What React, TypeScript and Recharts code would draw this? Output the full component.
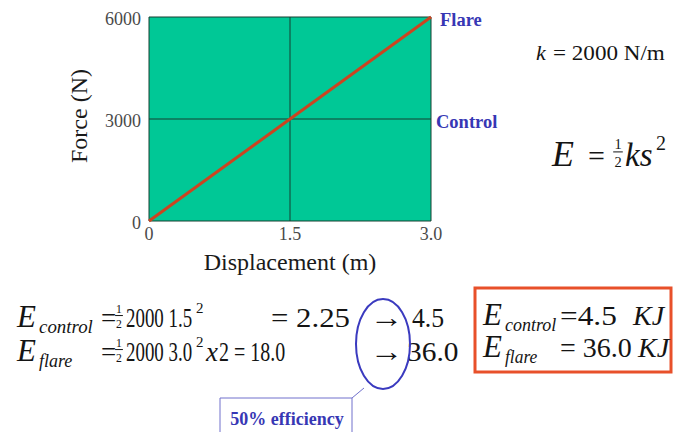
import React from 'react';
import {
  LineChart,
  Line,
  XAxis,
  YAxis,
  CartesianGrid,
  ReferenceLine,
} from 'recharts';

const displacement = [0, 1.5, 3.0];
const force = [0, 3000, 6000];
const xTicks = [0, 1.5, 3.0];
const yTicks = [0, 3000, 6000];
const xTickLabels = ['0', '1.5', '3.0'];
const levelLabels = ['Control', 'Flare'];
const levelValues = [3000, 6000];
const levelOffsets = [5, 9];

const data = displacement.map((d, i) => ({ d, f: force[i] }));

const SERIF = "'Liberation Serif', 'Times New Roman', Times, serif";
const BLUE = '#3737b4';
const INK = '#141414';

type TProps = { x: number; y: number; sx?: number; size: number; italic?: boolean; children: React.ReactNode };
// text drawn at (x, y), optionally squeezed horizontally by sx
const T = ({ x, y, sx = 1, size, italic, children }: TProps) => (
  <text
    x={0}
    y={0}
    transform={`translate(${x},${y}) scale(${sx},1)`}
    style={{ fontFamily: SERIF, fontSize: size, fontStyle: italic ? 'italic' : 'normal' }}
    fill={INK}
  >
    {children}
  </text>
);

const Frac = ({ x, y, size }: { x: number; y: number; size: number }) => (
  <g>
    <text x={x} y={y - size * 0.52} textAnchor="middle" style={{ fontFamily: SERIF, fontSize: size * 0.45 }} fill={INK}>1</text>
    <line x1={x - size * 0.15} x2={x + size * 0.15} y1={y - size * 0.44} y2={y - size * 0.44} stroke={INK} strokeWidth={1} />
    <text x={x} y={y + size * 0.04} textAnchor="middle" style={{ fontFamily: SERIF, fontSize: size * 0.45 }} fill={INK}>2</text>
  </g>
);

const ESub = ({ x, y, sub, sx }: { x: number; y: number; sub: string; sx: number }) => (
  <g>
    <T x={x} y={y} size={31} italic>E</T>
    <T x={x + 22} y={y + 6} size={18} italic sx={sx}>{sub}</T>
  </g>
);

export default function App() {
  return (
    <div style={{ position: 'absolute', left: 0, top: 0, width: 675, height: 432, background: '#fff', fontFamily: SERIF }}>
      <LineChart
        width={675}
        height={432}
        data={data}
        margin={{ top: 17, right: 244, left: 109, bottom: 181 }}
        style={{ fontFamily: SERIF }}
      >
        <CartesianGrid
          stroke="#173f30"
          strokeWidth={1}
          fill="#00c896"
          fillOpacity={1}
          horizontalValues={yTicks}
          verticalValues={xTicks}
        />
        <XAxis
          dataKey="d"
          type="number"
          domain={[0, 3]}
          ticks={xTicks}
          tickFormatter={(v: number) => xTickLabels[xTicks.indexOf(v)]}
          axisLine={false}
          tickLine={false}
          tickSize={0}
          tickMargin={6}
          height={30}
          tick={{ fill: '#4a4a4a', fontSize: 18, fontFamily: SERIF }}
          label={{ value: 'Displacement (m)', position: 'insideBottom', offset: -19, fill: '#1a1a1a', fontSize: 24, fontFamily: SERIF }}
        />
        <YAxis
          dataKey="f"
          type="number"
          domain={[0, 6000]}
          ticks={yTicks}
          axisLine={false}
          tickLine={false}
          tickSize={0}
          tickMargin={8}
          width={40}
          tick={{ fill: '#4a4a4a', fontSize: 18, fontFamily: SERIF, dy: 2 }}
          label={{ value: 'Force (N)', angle: -90, position: 'insideLeft', dx: -36, dy: 44, fill: '#1a1a1a', fontSize: 24, fontFamily: SERIF }}
        />
        {levelValues.map((v, i) => (
          <ReferenceLine
            key={v}
            y={v}
            stroke="none"
            label={{ value: levelLabels[i], position: 'right', offset: levelOffsets[i], dy: 2, fill: BLUE, fontSize: 18.5, fontWeight: 'bold', fontFamily: SERIF }}
          />
        ))}
        <Line
          dataKey="f"
          stroke="#cc4420"
          strokeWidth={3}
          dot={false}
          isAnimationActive={false}
        />
      </LineChart>

      <svg width={675} height={432} style={{ position: 'absolute', left: 0, top: 0, pointerEvents: 'none' }}>
        {/* right-side formulas */}
        <T x={536} y={60} size={22} italic>k</T>
        <T x={553} y={60} size={21} sx={1.1}>= 2000 N/m</T>
        <T x={552} y={166} size={36} italic>E</T>
        <T x={588} y={166} size={30}>=</T>
        <Frac x={618} y={166} size={32} />
        <T x={625} y={166} size={33} italic>ks</T>
        <T x={656} y={150} size={20}>2</T>

        {/* bottom equations, row 1 */}
        <ESub x={17} y={327} sub="control" sx={1.05} />
        <T x={101} y={327} size={27}>=</T>
        <Frac x={119} y={327} size={26} />
        <T x={126} y={327} size={27} sx={0.7}>2000 1.5</T>
        <T x={196} y={313} size={15}>2</T>
        <T x={271} y={327} size={28} sx={1.1}>= 2.25</T>
        <T x={370} y={327} size={28} sx={1.2}>→</T>
        <T x={412} y={327} size={28} sx={0.92}>4.5</T>

        {/* row 2 */}
        <ESub x={17} y={361} sub="flare" sx={1.0} />
        <T x={101} y={361} size={27}>=</T>
        <Frac x={119} y={361} size={26} />
        <T x={126} y={361} size={27} sx={0.7}>2000 3.0</T>
        <T x={196} y={347} size={15}>2</T>
        <T x={206} y={361} size={27} italic>x</T>
        <T x={219} y={361} size={27} sx={0.74}>2 = 18.0</T>
        <T x={370} y={361} size={28} sx={1.2}>→</T>
        <T x={407} y={361} size={28} sx={1.05}>36.0</T>

        {/* ellipse + callout */}
        <ellipse cx={383} cy={344} rx={27} ry={45} fill="none" stroke="#3a3abf" strokeWidth={2} />
        <polyline points="220,432 220,398 352,398 352,432" fill="none" stroke="#7070cc" strokeWidth={1} />
        <line x1={352} y1={398} x2={364} y2={388} stroke="#7070cc" strokeWidth={1} />
        <text x={287} y={425} textAnchor="middle" style={{ fontFamily: SERIF, fontSize: 18, fontWeight: 'bold' }} fill={BLUE}>50% efficiency</text>

        {/* result box */}
        <rect x={475} y={288} width={196} height={84} fill="none" stroke="#e8502a" strokeWidth={3} />
        <ESub x={483} y={325} sub="control" sx={1.0} />
        <T x={560} y={325} size={28} sx={1.12}>=4.5</T>
        <T x={633} y={325} size={28} italic>KJ</T>
        <ESub x={483} y={357} sub="flare" sx={0.97} />
        <T x={560} y={357} size={28}>= 36.0</T>
        <T x={638} y={357} size={28} italic>KJ</T>
      </svg>
    </div>
  );
}
